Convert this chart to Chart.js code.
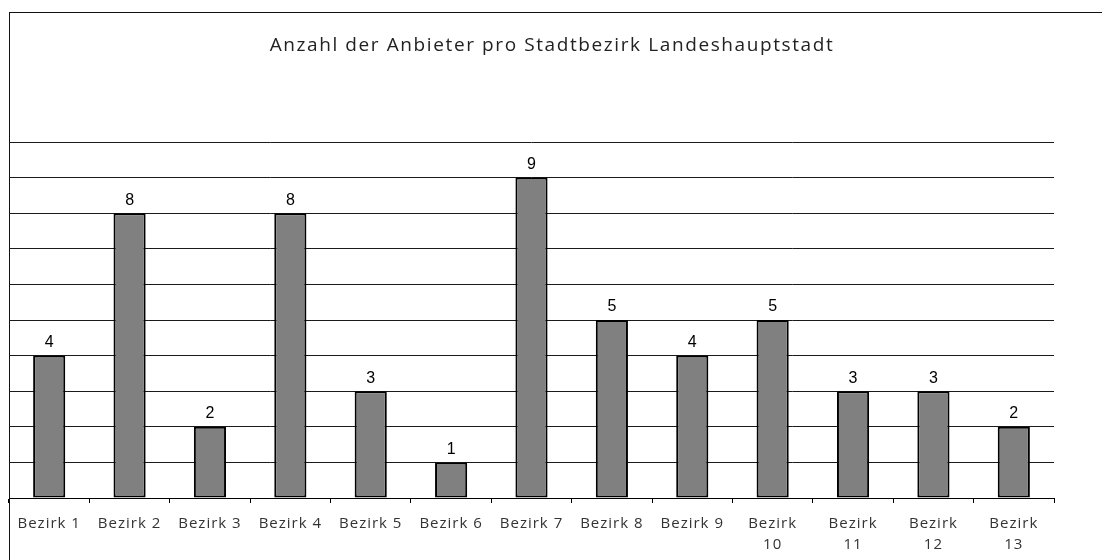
<!DOCTYPE html>
<html lang="de">
<head>
    <meta charset="UTF-8">
    <title>Anzahl der Anbieter pro Stadtbezirk</title>
    <style>
        body {
            margin: 0;
            background: #fff;
            overflow: hidden;
        }
        .frame {
            position: absolute;
            left: 9px;
            top: 12px;
            width: 1200px;
            height: 600px;
            border-left: 1px solid #111;
            border-top: 1px solid #111;
        }
        canvas {
            position: absolute;
            left: 0;
            top: 0;
        }
    </style>
</head>
<body>
    <div class="frame"></div>
    <canvas id="chart" width="1102" height="560"></canvas>

    <script src="https://cdn.jsdelivr.net/npm/chart.js"></script>
    <script>
        const chartTitle = 'Anzahl der Anbieter pro Stadtbezirk Landeshauptstadt';
        const bezirke = [
            'Bezirk 1', 'Bezirk 2', 'Bezirk 3', 'Bezirk 4', 'Bezirk 5', 'Bezirk 6',
            'Bezirk 7', 'Bezirk 8', 'Bezirk 9',
            ['Bezirk', '10'], ['Bezirk', '11'], ['Bezirk', '12'], ['Bezirk', '13']
        ];
        const anbieter = [4, 8, 2, 8, 3, 1, 9, 5, 4, 5, 3, 3, 2];
        const yMin = 0;
        const yMax = 10;
        const yStep = 1;

        const labelFont = '"Open Sans", "DejaVu Sans", sans-serif';

        // title drawn by hand so it can get a bit of letter spacing
        const titlePlugin = {
            id: 'spacedTitle',
            beforeDraw(chart) {
                const c = chart.ctx;
                c.save();
                c.font = '19px ' + labelFont;
                c.fillStyle = '#222';
                c.textAlign = 'center';
                c.textBaseline = 'middle';
                c.letterSpacing = '1.6px';
                c.fillText(chartTitle, 552, 46);
                c.restore();
                // slight spacing for the axis labels too
                c.letterSpacing = '1px';
            }
        };

        // numbers above each bar
        const valueLabels = {
            id: 'valueLabels',
            afterDatasetsDraw(chart) {
                const c = chart.ctx;
                const meta = chart.getDatasetMeta(0);
                c.save();
                c.letterSpacing = '0px';
                c.font = '16px "Liberation Sans", Arial, sans-serif';
                c.fillStyle = '#000';
                c.textAlign = 'center';
                c.textBaseline = 'bottom';
                meta.data.forEach((bar, i) => {
                    c.fillText(String(anbieter[i]), bar.x, bar.y - 5);
                });
                c.restore();
            }
        };

        const ctx = document.getElementById('chart').getContext('2d');
        const chart = new Chart(ctx, {
            type: 'bar',
            data: {
                labels: bezirke,
                datasets: [{
                    label: 'Anbieter',
                    data: anbieter,
                    backgroundColor: '#808080',
                    borderColor: '#000',
                    borderWidth: 2,
                    borderSkipped: false,
                    barPercentage: 0.4,
                    categoryPercentage: 1.0
                }]
            },
            options: {
                responsive: false,
                animation: false,
                layout: {
                    padding: { left: 9, right: 48, top: 142, bottom: 0 }
                },
                plugins: {
                    legend: { display: false },
                    title: { display: false },
                    tooltip: { enabled: false }
                },
                scales: {
                    x: {
                        grid: {
                            offset: true,
                            drawOnChartArea: false,
                            drawTicks: true,
                            tickLength: 5,
                            color: '#000'
                        },
                        border: { display: true, color: '#000', width: 1 },
                        ticks: {
                            color: '#333',
                            padding: 10,
                            maxRotation: 0,
                            autoSkip: false,
                            font: { family: labelFont, size: 15, lineHeight: 1.4 }
                        },
                        afterFit(scale) {
                            scale.height = 62;
                        }
                    },
                    y: {
                        min: yMin,
                        max: yMax,
                        grid: {
                            color: '#1a1a1a',
                            lineWidth: 1,
                            drawTicks: false
                        },
                        border: { display: false },
                        ticks: { display: false, stepSize: yStep },
                        afterFit(scale) {
                            scale.width = 0;
                        }
                    }
                }
            },
            plugins: [titlePlugin, valueLabels]
        });
    </script>
</body>
</html>
